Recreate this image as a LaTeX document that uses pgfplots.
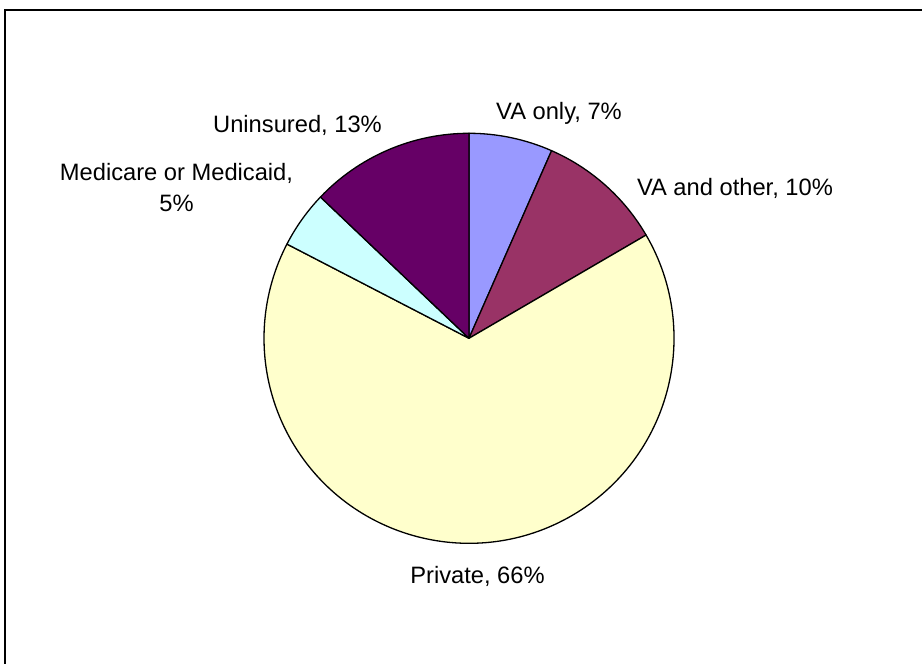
\documentclass[border=0pt]{standalone}
\usepackage{pgfplots}
\pgfplotsset{compat=1.18}
\usepackage{fontspec}
\setmainfont{Liberation Sans}

\definecolor{vaonly}{HTML}{9999FF}
\definecolor{vaother}{HTML}{993366}
\definecolor{private}{HTML}{FFFFCC}
\definecolor{medic}{HTML}{CCFFFF}
\definecolor{uninsured}{HTML}{660066}

% share of each slice in percent, clockwise from 12 o'clock
\def\vVAonly{6.6}
\def\vVAother{10.0}
\def\vPrivate{66.0}
\def\vMedic{4.5}
\def\vUninsured{12.9}

% slice: start percent, value, colour  (radius 205 px = 102.5pt)
\newcommand{\pieslice}[3]{%
  \pgfmathsetmacro\sa{90-3.6*(#1)}%
  \pgfmathsetmacro\sb{90-3.6*((#1)+(#2))}%
  \edef\temp{\noexpand\filldraw[fill=#3, draw=black, line width=0.65pt, line join=round]
    (axis cs:469,325.7) -- ++(\sa:102.5pt)
    arc[start angle=\sa, end angle=\sb, radius=102.5pt] -- cycle;}%
  \temp}

\begin{document}
\begin{tikzpicture}[lbl/.style={font=\fontsize{11.85}{14}\selectfont, anchor=base, inner sep=0pt}]
\useasboundingbox (0,0) rectangle (461pt,332pt);
\begin{axis}[
    scale only axis,
    width=461pt, height=332pt,
    xmin=0, xmax=922, ymin=0, ymax=664,
    hide axis,
    clip=false,
]
\pieslice{0}{\vVAonly}{vaonly}
\pieslice{\vVAonly}{\vVAother}{vaother}
\pieslice{\vVAonly+\vVAother}{\vPrivate}{private}
\pieslice{\vVAonly+\vVAother+\vPrivate}{\vMedic}{medic}
\pieslice{\vVAonly+\vVAother+\vPrivate+\vMedic}{\vUninsured}{uninsured}

\node[lbl] at (axis cs:559,544) {VA only, 7\%};
\node[lbl] at (axis cs:735,468) {VA and other, 10\%};
\node[lbl] at (axis cs:477.5,80.7) {Private, 66\%};
\node[lbl] at (axis cs:176.5,483) {Medicare or Medicaid,};
\node[lbl] at (axis cs:176.5,452.3) {5\%};
\node[lbl] at (axis cs:297.5,531.7) {Uninsured, 13\%};

\draw[line width=0.65pt] (axis cs:5,0) -- (axis cs:5,654) -- (axis cs:922,654);
\end{axis}
\end{tikzpicture}
\end{document}
